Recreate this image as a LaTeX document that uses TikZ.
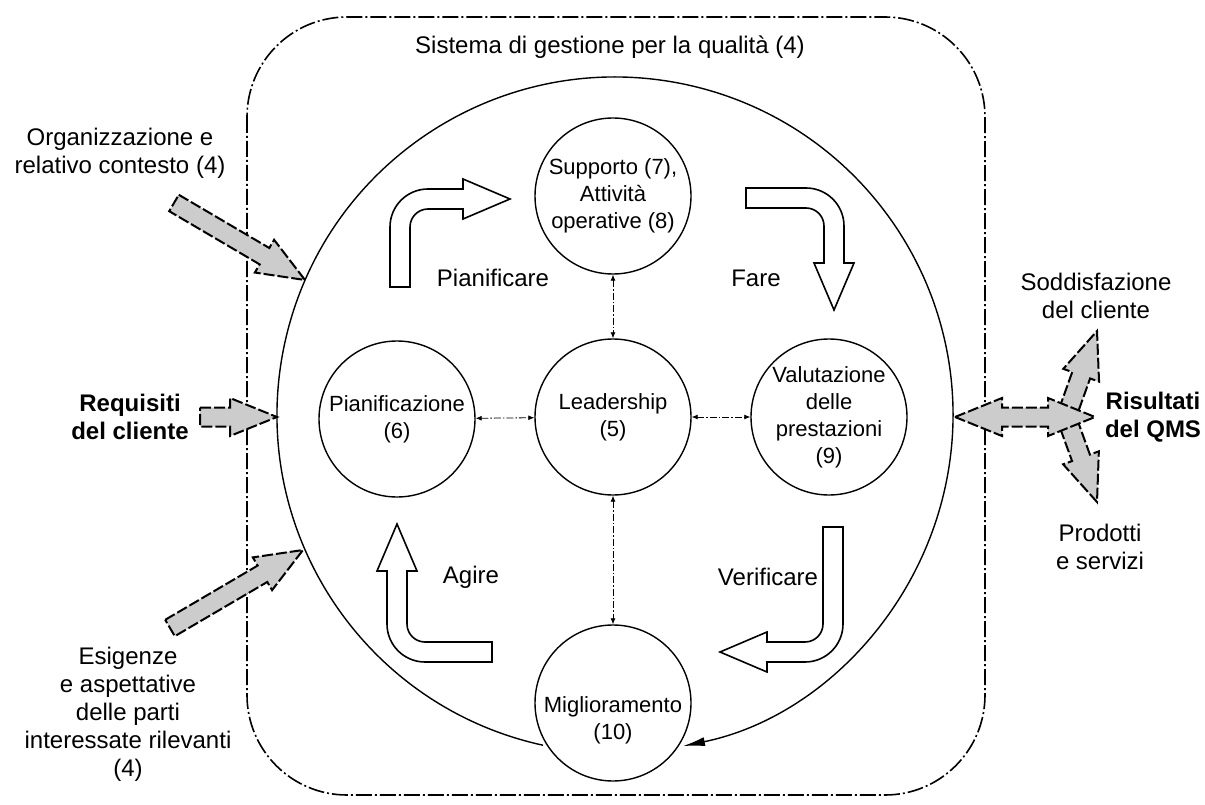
\documentclass[tikz,border=0pt]{standalone}
\usepackage{fontspec}
\setmainfont{Liberation Sans}
\usetikzlibrary{arrows.meta,positioning,calc}

\tikzset{
  fase/.style={circle, draw, line width=1.4pt, minimum size=156pt, inner sep=0pt, align=center, font=\fontsize{22}{27}\selectfont},
  testo/.style={align=center, font=\fontsize{24}{28}\selectfont},
  collega/.style={line width=0.8pt, dash pattern=on 7pt off 2pt on 1.5pt off 2pt, {Latex[length=6pt,width=5pt]}-{Latex[length=6pt,width=5pt]}},
  grigia/.style={draw, line width=2pt, dash pattern=on 11pt off 3pt, fill=black!20},
  cava/.style={draw, line width=1.6pt, fill=white},
  bordo/.style={line width=1.6pt, dash pattern=on 16pt off 3pt on 2pt off 3pt, rounded corners=100pt},
}

% freccia grigia: coda, punta
\newcommand\frecciagrigia[2]{%
  \coordinate (fg-h) at ($(#2)!47pt!(#1)$);
  \draw[grigia] ($(#1)!9.5pt!90:(#2)$) -- ($(fg-h)!9.5pt!90:(#2)$) -- ($(fg-h)!19pt!90:(#2)$) -- (#2)
    -- ($(fg-h)!19pt!-90:(#2)$) -- ($(fg-h)!9.5pt!-90:(#2)$) -- ($(#1)!9.5pt!-90:(#2)$) -- cycle;
}
% freccia grigia a due punte
\newcommand\frecciadoppia[2]{%
  \coordinate (fd-a) at ($(#1)!47pt!(#2)$);
  \coordinate (fd-b) at ($(#2)!47pt!(#1)$);
  \draw[grigia] (#1) -- ($(fd-a)!19pt!90:(#2)$) -- ($(fd-a)!9.5pt!90:(#2)$) -- ($(fd-b)!9.5pt!90:(#2)$)
    -- ($(fd-b)!19pt!90:(#2)$) -- (#2) -- ($(fd-b)!19pt!-90:(#2)$) -- ($(fd-b)!9.5pt!-90:(#2)$)
    -- ($(fd-a)!9.5pt!-90:(#2)$) -- ($(fd-a)!19pt!-90:(#2)$) -- cycle;
}
% freccia cava piegata: angolo, rotazione, gambo, braccio
\newcommand\frecciacava[4]{%
  \begin{scope}[shift={#1}, rotate=#2]
    \draw[cava] (-10,#3) -- (-10,28) arc[start angle=180, end angle=270, radius=38] -- ({#4-47},-10)
      -- ({#4-47},-20) -- (#4,0) -- ({#4-47},20) -- ({#4-47},10) -- (28,10)
      arc[start angle=270, end angle=180, radius=18] -- (10,#3) -- cycle;
  \end{scope}
}

\begin{document}
\begin{tikzpicture}[x=1pt, y=-1pt]
	\useasboundingbox (0,0) rectangle (1205,805);
	% sistema
	\draw[bordo] (247,17) rectangle (985,795);
	\node[testo] (sistema) at (610,47) {Sistema di gestione per la qualità (4)};
	% fasi
	\coordinate (centro) at (615,415);
	\node[fase] (supporto) at (613,196) {Supporto (7),\\Attività\\operative (8)};
	\node[fase] (leader) at (613,417) {Leadership\\(5)};
	\node[fase] (pianif) at (397,419) {Pianificazione\\(6)};
	\node[fase] (valut) at (829,417) {Valutazione\\delle\\prestazioni\\(9)};
	\node[fase] (miglior) at (613,703) {};
	\node[font=\fontsize{22}{27}\selectfont, align=center] (miglior-testo) at (613,720) {Miglioramento\\(10)};
	% ciclo
	\draw[line width=1.4pt, -{Latex[length=22pt,width=9pt]}] ([shift={(102.3:338)}]centro) arc[start angle=102.3, end angle=438.4, radius=338];
	\draw[collega] (supporto) -- (leader);
	\draw[collega] (pianif) -- (leader);
	\draw[collega] (leader) -- (valut);
	\draw[collega] (leader) -- (miglior);
	% PDCA
	\frecciacava{(400,199)}{0}{88}{110}
	\frecciacava{(834,198)}{-90}{88}{112}
	\frecciacava{(833,652)}{180}{125}{113}
	\frecciacava{(397,652)}{90}{95}{128}
	\node[testo] (pianificare) at (493,278) {Pianificare};
	\node[testo] (fare) at (756,278) {Fare};
	\node[testo] (agire) at (471,577) {Agire};
	\node[testo] (verificare) at (768,577) {Verificare};
	% ingressi
	\node[testo] (organizz) at (120,153) {Organizzazione e\\relativo contesto (4)};
	\node[testo, font=\fontsize{24}{28}\selectfont\bfseries] (requisiti) at (130,417) {Requisiti\\del cliente};
	\node[testo] (esigenze) at (128,714) {Esigenze\\e aspettative\\delle parti\\interessate rilevanti\\(4)};
	\coordinate (org-coda) at (174,203);
	\coordinate (org-punta) at (305,280);
	\coordinate (req-coda) at (200,417);
	\coordinate (req-punta) at (277,417);
	\coordinate (esi-coda) at (170,628);
	\coordinate (esi-punta) at (303,550);
	\frecciagrigia{org-coda}{org-punta}
	\frecciagrigia{req-coda}{req-punta}
	\frecciagrigia{esi-coda}{esi-punta}
	% uscite
	\node[testo] (soddisf) at (1096,296) {Soddisfazione\\del cliente};
	\node[testo, font=\fontsize{24}{28}\selectfont\bfseries] (risultati) at (1153,417) {Risultati\\del QMS};
	\node[testo] (prodotti) at (1100,547) {Prodotti\\e servizi};
	\coordinate (ris-sin) at (955,417);
	\coordinate (ris-des) at (1095,417);
	\coordinate (sod-coda) at (1068,412);
	\coordinate (sod-punta) at (1097,331);
	\coordinate (pro-coda) at (1068,422);
	\coordinate (pro-punta) at (1097,502);
	\frecciagrigia{sod-coda}{sod-punta}
	\frecciagrigia{pro-coda}{pro-punta}
	\frecciadoppia{ris-sin}{ris-des}
\end{tikzpicture}
\end{document}
